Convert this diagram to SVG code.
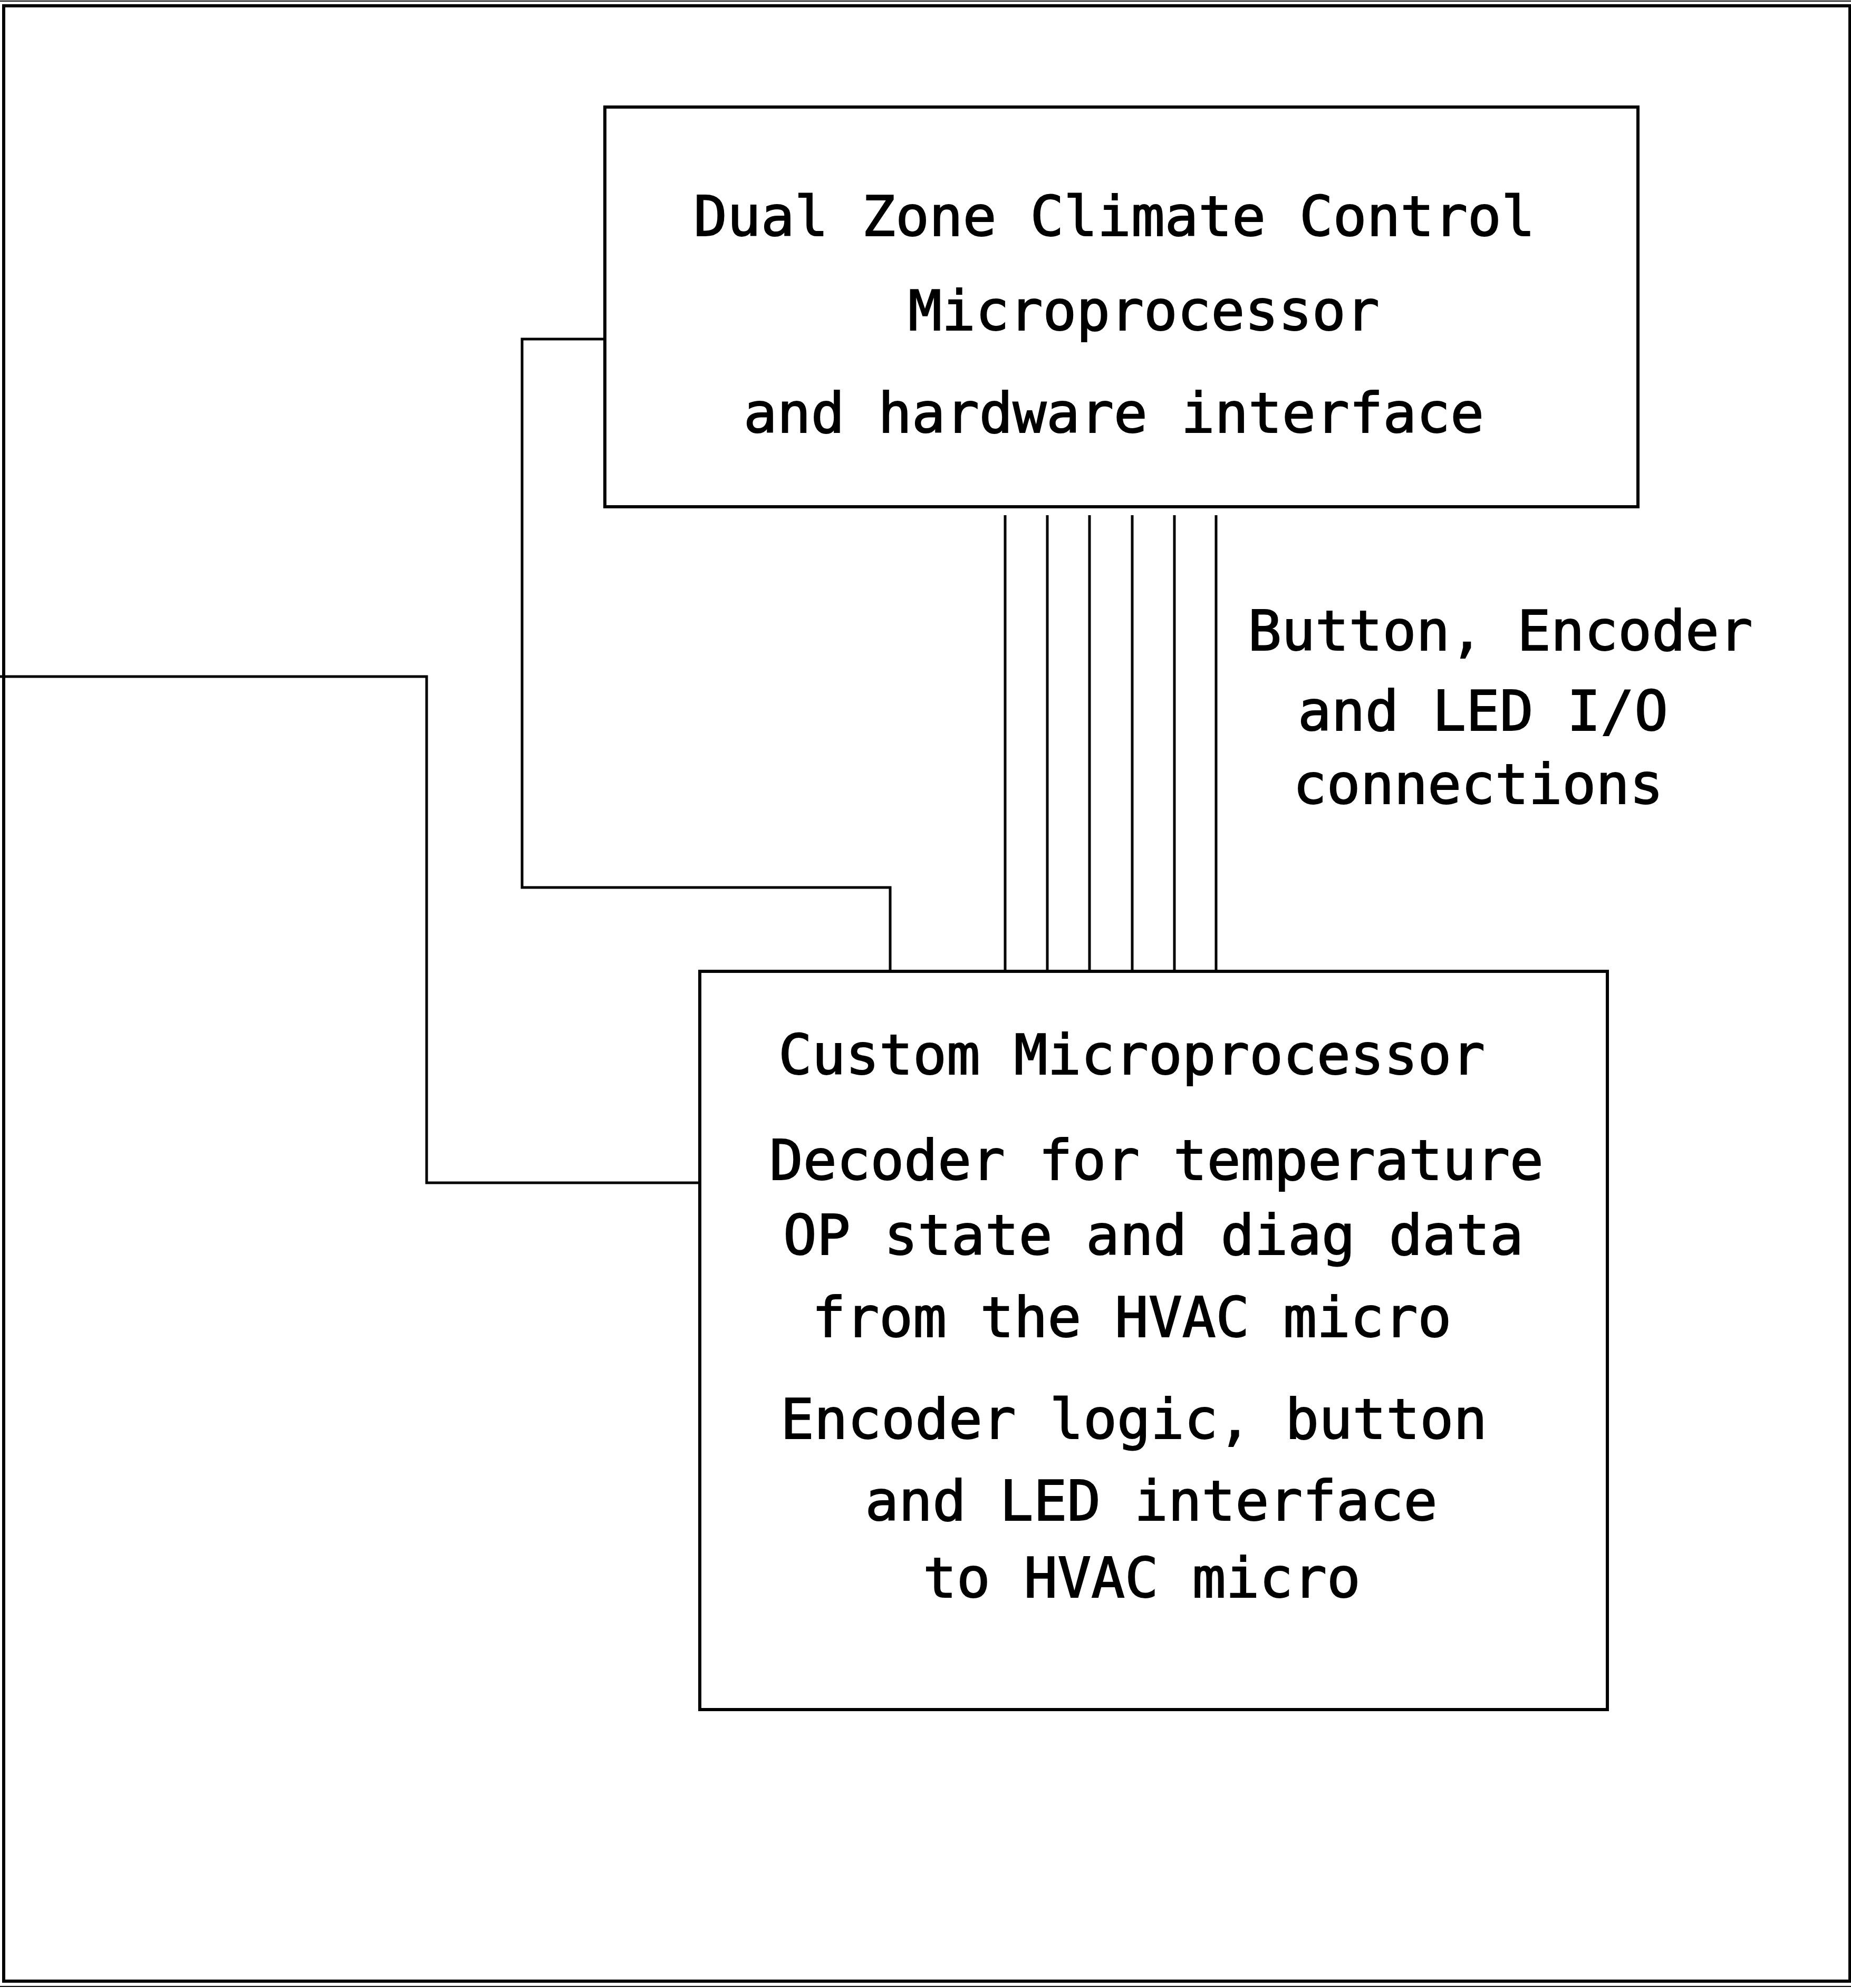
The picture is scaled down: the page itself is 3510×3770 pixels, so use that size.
<svg xmlns="http://www.w3.org/2000/svg" width="3510" height="3770" viewBox="0 0 3510 3770">
<style>
.box{fill:none;stroke:#000;stroke-width:6}
.wire{fill:none;stroke:#000;stroke-width:5}
.bus{fill:none;stroke:#000;stroke-width:5}
.t{font-family:"DejaVu Sans Mono","Liberation Mono",monospace;font-size:106px;fill:#000;stroke:#000;stroke-width:2;text-anchor:middle}
</style>
<rect x="0" y="0" width="3510" height="3770" fill="#fff"/>
<g id="frame">
<line x1="0" y1="2" x2="3510" y2="2" stroke="#000" stroke-width="2"/>
<line x1="0" y1="3767" x2="3510" y2="3767" stroke="#000" stroke-width="2"/>
<rect x="7" y="11" width="3501" height="3746" fill="none" stroke="#000" stroke-width="6"/>
</g>
<g id="connectors">
<polyline class="wire" points="1147,643 990,643 990,1683 1688,1683 1688,1842"/>
<polyline class="wire" points="0,1283 809,1283 809,2243 1327,2243"/>
<g id="io-bus">
<line class="bus" x1="1906" y1="977" x2="1906" y2="1842"/>
<line class="bus" x1="1986" y1="977" x2="1986" y2="1842"/>
<line class="bus" x1="2066" y1="977" x2="2066" y2="1842"/>
<line class="bus" x1="2147" y1="977" x2="2147" y2="1842"/>
<line class="bus" x1="2227" y1="977" x2="2227" y2="1842"/>
<line class="bus" x1="2306" y1="977" x2="2306" y2="1842"/>
</g>
</g>
<g id="dual-zone-micro">
<rect class="box" x="1147" y="203" width="1959" height="758"/>
<text class="t" x="2113" y="447">Dual Zone Climate Control</text>
<text class="t" x="2169" y="626">Microprocessor</text>
<text class="t" x="2112" y="820">and hardware interface</text>
</g>
<g id="io-label">
<text class="t" x="2845" y="1233">Button, Encoder</text>
<text class="t" x="2812" y="1385">and LED I/O</text>
<text class="t" x="2803" y="1524">connections</text>
</g>
<g id="custom-micro">
<rect class="box" x="1327" y="1842" width="1721" height="1400"/>
<text class="t" x="2146" y="2037">Custom Microprocessor</text>
<text class="t" x="2193" y="2237">Decoder for temperature</text>
<text class="t" x="2187" y="2379">OP state and diag data</text>
<text class="t" x="2146" y="2535">from the HVAC micro</text>
<text class="t" x="2150" y="2728">Encoder logic, button</text>
<text class="t" x="2183" y="2883">and LED interface</text>
<text class="t" x="2165" y="3029">to HVAC micro</text>
</g>
</svg>
